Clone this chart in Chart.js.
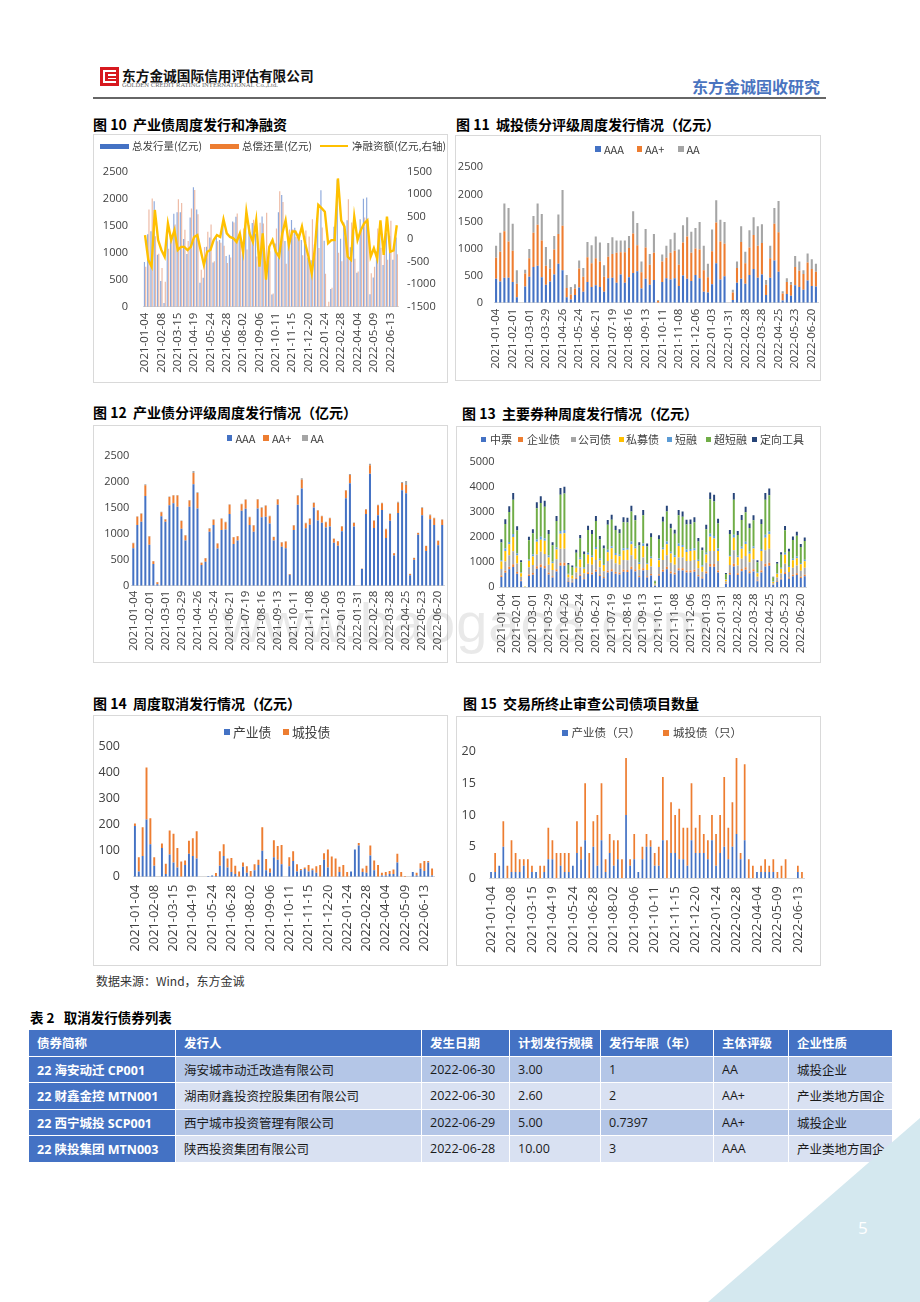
<!DOCTYPE html>
<html><head><meta charset="utf-8">
<script src="https://cdn.jsdelivr.net/npm/chart.js@4.4.1/dist/chart.umd.min.js"></script>
<style>
html,body{margin:0;padding:0;background:#fff;}
#page{position:relative;width:920px;height:1302px;overflow:hidden;font-family:'Noto Sans CJK SC','Noto Sans',sans-serif;color:#000;}
.abs{position:absolute;white-space:nowrap;}
.box{position:absolute;border:1px solid #d9d9d9;box-sizing:border-box;}
.ttl{position:absolute;font-weight:700;font-size:14px;line-height:18px;white-space:nowrap;color:#000;}
canvas{position:absolute;}
#tbl{position:absolute;left:28px;top:1029px;width:864px;border-collapse:collapse;table-layout:fixed;font-family:'Open Sans','Noto Sans CJK SC',sans-serif;font-size:12.5px;}
#tbl td{height:25.5px;padding:0 0 0 8px;border:1.5px solid #fff;white-space:nowrap;overflow:hidden;color:#1a1a1a;}
#tbl tr.h td{background:#4472C4;color:#fff;font-weight:700;font-family:'Noto Sans CJK SC',sans-serif;}
#tbl td.f{background:#4472C4;color:#fff;font-weight:700;}
#tbl tr.d td{background:#B4C6E7;}
#tbl tr.l td{background:#D9E1F2;}
#tbl tr.d td.f,#tbl tr.l td.f{background:#4472C4;}
</style></head>
<body><div id="page">
<!-- header -->
<div class="abs" style="left:100px;top:67px;width:19px;height:19px;background:#d7191f;"></div>
<div class="abs" style="left:103px;top:70px;width:2px;height:13px;background:#fff;"></div>
<div class="abs" style="left:103px;top:70px;width:13px;height:2px;background:#fff;"></div>
<div class="abs" style="left:103px;top:81px;width:13px;height:2px;background:#fff;"></div>
<div class="abs" style="left:108px;top:74px;width:8px;height:1.5px;background:#fff;"></div>
<div class="abs" style="left:108px;top:77.5px;width:8px;height:1.5px;background:#fff;"></div>
<div class="abs" style="left:122px;top:66px;font-size:13.7px;line-height:18px;font-weight:700;color:#111;">东方金诚国际信用评估有限公司</div>
<div class="abs" style="left:122px;top:81px;font-size:6.6px;line-height:8px;font-family:'Liberation Serif',serif;color:#666;">GOLDEN CREDIT RATING INTERNATIONAL Co.,Ltd.</div>
<div class="abs" style="left:692px;top:76px;font-size:16px;line-height:20px;font-weight:700;color:#4a74c0;">东方金诚固收研究</div>
<div class="abs" style="left:93px;top:96.5px;width:733px;height:2px;background:#666;"></div>

<!-- chart boxes -->
<div class="box" style="left:93px;top:134px;width:355px;height:249px;"></div>
<div class="box" style="left:455px;top:135px;width:366px;height:246px;"></div>
<div class="box" style="left:93px;top:425px;width:355px;height:238px;"></div>
<div class="box" style="left:456px;top:426px;width:365px;height:237px;"></div>
<div class="box" style="left:93px;top:715px;width:355px;height:251px;"></div>
<div class="box" style="left:456px;top:716px;width:365px;height:250px;"></div>

<div class="ttl" style="left:93px;top:115px;">图 10&nbsp; 产业债周度发行和净融资</div>
<div class="ttl" style="left:456px;top:115px;">图 11&nbsp; 城投债分评级周度发行情况（亿元）</div>
<div class="ttl" style="left:93px;top:403px;">图 12&nbsp; 产业债分评级周度发行情况（亿元）</div>
<div class="ttl" style="left:462px;top:404px;">图 13&nbsp; 主要券种周度发行情况（亿元）</div>
<div class="ttl" style="left:93px;top:694px;">图 14&nbsp; 周度取消发行情况（亿元）</div>
<div class="ttl" style="left:463px;top:694px;">图 15&nbsp; 交易所终止审查公司债项目数量</div>

<canvas id="c10"></canvas><canvas id="c11"></canvas><canvas id="c12"></canvas>
<canvas id="c13"></canvas><canvas id="c14"></canvas><canvas id="c15"></canvas>

<div class="abs" style="left:222px;top:588px;font-family:'Liberation Sans',sans-serif;font-size:56px;line-height:70px;color:rgba(120,120,120,0.16);letter-spacing:1px;">www.baogao8.com</div>

<div class="abs" style="left:96px;top:972px;font-size:12px;line-height:18px;color:#333;">数据来源：Wind，东方金诚</div>

<div class="abs" style="left:30px;top:1008px;font-size:13.5px;line-height:18px;font-weight:700;">表 2&nbsp;&nbsp; 取消发行债券列表</div>
<table id="tbl">
<colgroup><col style="width:147px"><col style="width:246px"><col style="width:88px"><col style="width:91px"><col style="width:113px"><col style="width:75px"><col style="width:104px"></colgroup>
<tr class="h"><td>债券简称</td><td>发行人</td><td>发生日期</td><td>计划发行规模</td><td>发行年限（年）</td><td>主体评级</td><td>企业性质</td></tr>
<tr class="d"><td class="f">22 海安动迁 CP001</td><td>海安城市动迁改造有限公司</td><td>2022-06-30</td><td>3.00</td><td>1</td><td>AA</td><td>城投企业</td></tr>
<tr class="l"><td class="f">22 财鑫金控 MTN001</td><td>湖南财鑫投资控股集团有限公司</td><td>2022-06-30</td><td>2.60</td><td>2</td><td>AA+</td><td>产业类地方国企</td></tr>
<tr class="d"><td class="f">22 西宁城投 SCP001</td><td>西宁城市投资管理有限公司</td><td>2022-06-29</td><td>5.00</td><td>0.7397</td><td>AA+</td><td>城投企业</td></tr>
<tr class="l"><td class="f">22 陕投集团 MTN003</td><td>陕西投资集团有限公司</td><td>2022-06-28</td><td>10.00</td><td>3</td><td>AAA</td><td>产业类地方国企</td></tr>
</table>

<div class="abs" style="left:0;top:0;width:920px;height:1302px;background:#d4e8ef;clip-path:polygon(708px 1302px,920px 1118px,920px 1302px);"></div>
<div class="abs" style="left:858px;top:1216px;font-family:'Open Sans',sans-serif;font-size:17px;line-height:24px;color:#fff;">5</div>
</div>

<script>
// ---------- data ----------
const weeks = ['2021-01-04','2021-01-11','2021-01-18','2021-01-25','2021-02-01','2021-02-08','2021-02-15','2021-02-22','2021-03-01','2021-03-08',
'2021-03-15','2021-03-22','2021-03-29','2021-04-05','2021-04-12','2021-04-19','2021-04-26','2021-05-03','2021-05-10','2021-05-17',
'2021-05-24','2021-05-31','2021-06-07','2021-06-14','2021-06-21','2021-06-28','2021-07-05','2021-07-12','2021-07-19','2021-07-26',
'2021-08-02','2021-08-09','2021-08-16','2021-08-23','2021-08-30','2021-09-06','2021-09-13','2021-09-20','2021-09-27','2021-10-04',
'2021-10-11','2021-10-18','2021-10-25','2021-11-01','2021-11-08','2021-11-15','2021-11-22','2021-11-29','2021-12-06','2021-12-13',
'2021-12-20','2021-12-27','2022-01-03','2022-01-10','2022-01-17','2022-01-24','2022-01-31','2022-02-07','2022-02-14','2022-02-21',
'2022-02-28','2022-03-07','2022-03-14','2022-03-21','2022-03-28','2022-04-04','2022-04-11','2022-04-18','2022-04-25','2022-05-02',
'2022-05-09','2022-05-16','2022-05-23','2022-05-30','2022-06-06','2022-06-13','2022-06-20','2022-06-27'];

// Fig 10
const issue10 = [830,1340,1395,1955,960,475,70,1425,1285,1720,1750,1750,1255,975,1650,2210,1800,445,535,1110,1280,820,1300,1235,1570,940,960,1580,1665,1330,1170,1670,1510,1550,1350,945,1670,840,855,225,1170,1750,2070,1215,1300,1605,1460,1350,1235,1310,910,860,1150,1845,2155,1220,0,330,1480,2350,1260,1560,1600,1100,1390,630,1620,2000,2020,230,540,1020,1510,770,1370,1310,870,1280];
const repay10 = [740,1800,2005,1305,980,715,460,1075,1305,1520,1990,1920,1425,1215,1820,2160,1710,685,1105,1390,1520,840,1210,1185,1130,810,910,1560,1725,1200,1450,1060,1380,1610,930,1555,1540,1740,1025,245,1450,2140,1940,795,1430,1435,1290,1330,955,1410,1300,1620,1320,1085,1465,610,90,350,1500,1000,840,1280,1990,1560,890,650,1420,1650,1600,620,740,1450,1090,1120,870,1590,1120,970];
const net10 = [90,-460,-610,650,-20,-240,-390,350,-20,200,-240,-170,-170,-240,-170,50,90,-240,-570,-280,-240,-20,90,50,440,130,50,20,-60,130,-280,610,130,-60,420,-610,130,-900,-170,-20,-280,-390,130,420,-130,170,170,20,280,-100,-390,-760,-170,760,690,610,-90,-20,-20,1350,420,280,-390,-460,500,-20,200,350,420,-390,-200,-430,420,-350,500,-280,-250,310];

// Fig 11 (城投债)
const aaa11 = [440,390,460,460,380,100,0,300,480,660,680,470,330,390,520,720,600,100,60,140,280,200,380,290,320,290,200,450,460,370,520,370,470,550,580,260,440,330,420,0,380,450,430,450,310,500,440,400,510,450,200,190,340,730,430,490,0,50,370,440,350,510,620,460,520,140,460,780,570,40,160,130,320,290,240,410,310,300];
const aap11 = [390,550,860,670,580,250,0,240,340,630,760,680,350,240,460,550,820,170,90,120,350,280,460,440,500,470,280,400,440,550,410,560,540,730,480,300,580,370,500,30,380,380,490,510,390,610,780,520,490,530,400,280,610,750,700,600,0,140,270,680,380,510,630,590,580,190,360,680,730,130,220,200,340,300,290,330,310,270];
const aa11 = [220,350,510,620,500,250,0,70,170,310,390,490,350,170,250,360,660,240,140,80,150,160,280,330,400,350,210,250,310,230,220,220,220,410,410,200,340,200,350,20,130,220,250,330,280,320,360,390,380,510,450,250,400,410,400,400,0,50,120,290,210,320,330,360,350,90,230,290,580,40,70,50,200,170,70,170,180,150];

// Fig 12 (产业债)
const aaa12 = [720,1170,1235,1730,790,420,30,1340,1235,1550,1590,1520,1100,870,1520,1955,1490,400,460,1040,1170,715,1075,1085,1380,805,870,1445,1485,1170,1040,1490,1320,1330,1200,870,1560,750,720,210,1075,1560,1875,1105,1175,1505,1255,1215,1120,1140,830,770,1050,1685,1975,1140,0,320,1380,2160,1110,1360,1460,920,1250,580,1400,1840,1780,200,500,980,1360,670,1280,1170,780,1170];
const aap12 = [100,160,150,205,160,50,35,75,40,160,150,220,145,100,120,215,295,40,70,60,100,100,215,140,180,130,85,125,170,150,120,170,180,210,140,70,100,85,130,15,85,175,165,100,115,90,195,125,105,160,75,85,90,150,160,70,0,5,90,160,140,190,130,170,130,45,200,140,160,25,35,35,140,95,80,130,85,100];
const aa12 = [10,10,10,20,10,5,5,10,10,10,10,10,10,5,10,40,15,5,5,10,10,5,10,10,10,5,5,10,10,10,10,10,10,10,10,5,10,5,5,0,10,15,30,10,10,10,10,10,10,10,5,5,10,10,20,10,0,5,10,30,10,10,10,10,10,5,20,20,80,5,5,5,10,5,10,10,5,10];

// Fig 13 (主要券种)
const mtn13 = [410,580,720,810,540,240,10,450,500,740,800,750,510,390,630,860,860,220,190,330,450,320,530,510,620,450,360,590,630,540,510,620,610,720,630,400,670,390,470,60,460,620,720,550,510,670,670,590,590,620,430,350,550,820,820,590,0,130,500,830,490,640,700,560,630,240,590,830,860,90,220,310,530,340,440,490,370,440];
const ent13 = [60,80,100,110,70,30,0,60,70,100,110,100,70,50,90,120,120,30,30,50,60,40,70,70,80,60,50,80,90,70,70,80,80,100,90,50,90,50,60,10,60,80,100,80,70,90,90,80,80,80,60,50,80,110,110,80,0,20,70,110,70,90,100,80,90,30,80,110,120,10,30,40,70,50,60,70,50,60];
const corp13 = [260,370,460,520,340,150,0,290,320,470,510,480,320,250,400,550,550,140,120,210,290,200,340,320,390,290,230,380,400,350,320,390,390,460,400,250,430,250,300,40,290,390,460,350,320,430,430,380,380,390,270,220,350,520,520,380,0,80,320,530,310,410,450,360,400,150,380,530,550,60,140,200,340,220,280,310,240,280];
const pp13 = [300,420,430,560,320,140,10,260,340,500,470,520,290,270,380,600,620,120,130,190,310,180,360,300,420,270,250,350,430,330,340,370,410,430,420,230,450,230,320,30,270,410,430,370,300,450,410,360,400,370,290,200,330,560,490,400,0,70,340,500,330,390,470,340,420,140,400,500,580,50,150,190,360,200,300,290,260,260];
const cp13 = [50,90,90,120,80,30,0,50,80,90,120,90,80,60,80,110,130,30,20,40,70,50,80,60,90,70,40,90,80,80,60,90,70,110,80,60,100,40,70,10,70,70,110,70,80,100,80,90,70,90,50,60,70,120,100,90,0,20,60,120,60,80,90,80,80,40,70,120,110,20,30,40,80,40,60,70,50,60];
const scp13 = [700,980,1200,1370,910,410,10,760,840,1250,1350,1270,850,650,1060,1440,1450,360,320,560,760,540,900,860,1040,760,610,1000,1060,910,850,1040,1020,1200,1050,670,1130,660,780,90,770,1040,1200,930,850,1130,1130,1000,990,1040,720,590,930,1380,1380,1000,0,210,830,1400,820,1070,1180,940,1050,400,1000,1400,1440,160,370,520,890,570,740,820,630,740];
const ppn13 = [130,190,230,260,170,80,0,140,160,240,260,240,160,120,200,270,270,70,60,110,140,100,170,160,200,140,120,190,200,170,160,200,190,230,200,130,210,120,150,20,150,200,230,180,160,210,210,190,190,200,140,110,180,260,260,190,0,40,160,260,160,200,220,180,200,80,190,260,270,30,70,100,170,110,140,160,120,140];

// Fig 14 (取消发行)
const ind14 = [195,20,80,220,125,42,0,110,10,85,55,35,0,45,88,80,70,0,0,3,5,3,42,80,35,18,10,0,38,15,0,25,45,100,25,15,75,65,48,0,40,60,20,25,30,20,25,15,0,65,35,0,0,18,0,0,20,105,120,18,15,82,25,0,5,5,10,10,55,0,0,0,18,5,32,22,55,5];
const city14 = [10,55,110,200,100,33,0,18,40,93,110,75,58,17,50,68,105,0,0,0,0,11,56,45,35,54,32,20,17,25,22,23,20,90,43,17,65,53,74,0,35,38,28,5,5,25,7,25,45,25,70,78,70,20,45,18,0,0,10,14,27,38,37,45,10,13,12,18,33,18,3,0,0,10,20,38,5,27];

// Fig 15 (终止审查, 77 weeks)
const weeks15 = weeks.slice(0, 77);
const ind15 = [1,1,2,5,0,1,1,1,2,0,1,1,0,1,3,3,0,2,1,1,2,4,3,6,0,5,2,6,1,4,2,3,0,10,2,3,1,3,5,5,2,2,6,0,4,4,3,3,2,6,4,4,4,3,6,2,4,5,3,5,7,3,6,0,0,1,1,1,1,1,0,0,0,0,0,1,0];
const city15 = [0,3,0,4,2,5,3,2,1,3,1,0,2,1,5,3,4,2,3,3,0,5,2,9,4,4,8,9,2,3,4,3,3,9,1,4,0,2,2,1,2,3,10,6,8,6,8,5,6,9,4,6,3,3,4,5,6,11,5,7,12,1,12,3,2,0,1,2,1,2,1,2,3,0,0,1,1];

// ---------- helpers ----------
const C = {blue:'#4472C4', orange:'#ED7D31', gray:'#A5A5A5', yellow:'#FFC000', lblue:'#5B9BD5', green:'#70AD47', navy:'#264478'};
const TF = "'Open Sans','Noto Sans CJK SC',sans-serif";
const TC = '#404040';

function legend(items){
  const host = document.getElementById('page');
  items.forEach(it=>{
    const d = document.createElement('div');
    d.className = 'abs';
    if (it.t){
      d.textContent = it.t;
      d.style.left = it.x+'px'; d.style.top = (it.y - it.s*0.75)+'px';
      d.style.fontSize = it.s+'px'; d.style.lineHeight = (it.s*1.5)+'px';
      d.style.color = '#404040';
    } else {
      d.style.left = it.x+'px'; d.style.top = (it.y - it.h/2)+'px';
      d.style.width = it.w+'px'; d.style.height = it.h+'px'; d.style.background = it.c;
    }
    host.appendChild(d);
  });
}

function xScale(box, plot, every, fs, pad, stacked){
  return {type:'category', stacked:!!stacked, offset:true,
    grid:{display:false, drawTicks:false}, border:{display:true, color:'#d9d9d9', width:1},
    ticks:{autoSkip:false, minRotation:90, maxRotation:90, padding:pad, color:TC, font:{family:TF, size:fs},
      callback:function(v,i){ return i % every === 0 ? this.getLabelForValue(v) : ''; }},
    afterFit:function(s){ s.height = box.b - plot.b; s.paddingLeft = 0; s.paddingRight = 0; }};
}
function yScale(box, plot, min, max, step, fs, pad, stacked, pos){
  return {type:'linear', position:pos || 'left', stacked:!!stacked, min:min, max:max,
    grid:{display:false, drawTicks:false}, border:{display:false},
    ticks:{stepSize:step, padding:pad, color:TC, font:{family:TF, size:fs}, callback:v => String(v)},
    afterFit:function(s){ s.width = (pos === 'right') ? (box.r - plot.r) : (plot.l - box.l); s.paddingTop = 0; s.paddingBottom = 0; }};
}
function make(id, box, plot, hasRight, data, scales){
  const cv = document.getElementById(id);
  const W = box.r - box.l, H = box.b - box.t;
  cv.width = W; cv.height = H;
  cv.style.left = box.l+'px'; cv.style.top = box.t+'px';
  cv.style.width = W+'px'; cv.style.height = H+'px';
  return new Chart(cv, {type:'bar', data:data,
    options:{responsive:false, animation:false,
      layout:{padding:{left:0, top:plot.t - box.t, right:hasRight ? 0 : box.r - plot.r, bottom:0}},
      plugins:{legend:{display:false}, tooltip:{enabled:false}},
      scales:scales}});
}
function bar(label, data, color, extra){
  return Object.assign({label:label, data:data, backgroundColor:color, borderWidth:0}, extra || {});
}

// ---------- Fig 10 ----------
{
  const box = {l:93, t:134, r:448, b:383};
  const plot = {l:143.4, t:171.7, r:398.4, b:306.7};
  make('c10', box, plot, true, {labels:weeks, datasets:[
    {type:'line', label:'净融资额(亿元,右轴)', data:net10, borderColor:C.yellow, backgroundColor:C.yellow, borderWidth:2.4, pointRadius:0, tension:0, yAxisID:'y1', order:0},
    bar('总发行量(亿元)', issue10, 'rgba(68,114,196,0.6)', {yAxisID:'y', order:1, categoryPercentage:0.8, barPercentage:0.9}),
    bar('总偿还量(亿元)', repay10, 'rgba(222,130,90,0.55)', {yAxisID:'y', order:1, categoryPercentage:0.8, barPercentage:0.9})
  ]}, {
    x: xScale(box, plot, 5, 11.5, 6, false),
    y: yScale(box, plot, 0, 2500, 500, 11, 15.4, false, 'left'),
    y1: yScale(box, plot, -1500, 1500, 500, 11, 8.6, false, 'right')
  });
  legend([
    {x:100, y:146, w:29, h:5, c:C.blue}, {t:'总发行量(亿元)', x:132, y:146, s:10.5},
    {x:210, y:146, w:29, h:5, c:C.orange}, {t:'总偿还量(亿元)', x:242, y:146, s:10.5},
    {x:320, y:146, w:28, h:2.5, c:C.yellow}, {t:'净融资额(亿元,右轴)', x:352, y:146, s:10.5}
  ]);
}

// ---------- Fig 11 ----------
{
  const box = {l:455, t:135, r:821, b:381};
  const plot = {l:494, t:167.3, r:818, b:302.7};
  const o = {categoryPercentage:1, barPercentage:0.5};
  make('c11', box, plot, false, {labels:weeks, datasets:[
    bar('AAA', aaa11, C.blue, o), bar('AA+', aap11, C.orange, o), bar('AA', aa11, C.gray, o)
  ]}, {
    x: xScale(box, plot, 4, 11.5, 6, true),
    y: yScale(box, plot, 0, 2500, 500, 11, 11, true)
  });
  legend([
    {x:595, y:149, w:5.5, h:5.5, c:C.blue}, {t:'AAA', x:604, y:149, s:11},
    {x:636.5, y:149, w:5.5, h:5.5, c:C.orange}, {t:'AA+', x:645, y:149, s:11},
    {x:678, y:149, w:5.5, h:5.5, c:C.gray}, {t:'AA', x:686.5, y:149, s:11}
  ]);
}

// ---------- Fig 12 ----------
{
  const box = {l:93, t:425, r:448, b:663};
  const plot = {l:131.3, t:456, r:444.2, b:585.7};
  const o = {categoryPercentage:1, barPercentage:0.5};
  make('c12', box, plot, false, {labels:weeks, datasets:[
    bar('AAA', aaa12, C.blue, o), bar('AA+', aap12, C.orange, o), bar('AA', aa12, C.gray, o)
  ]}, {
    x: xScale(box, plot, 4, 11.5, 5, true),
    y: yScale(box, plot, 0, 2500, 500, 11, 2, true)
  });
  legend([
    {x:226.5, y:438, w:5.5, h:5.5, c:C.blue}, {t:'AAA', x:235.5, y:438, s:11},
    {x:263, y:438, w:5.5, h:5.5, c:C.orange}, {t:'AA+', x:272, y:438, s:11},
    {x:302, y:438, w:5.5, h:5.5, c:C.gray}, {t:'AA', x:310.5, y:438, s:11}
  ]);
}

// ---------- Fig 13 ----------
{
  const box = {l:456, t:426, r:821, b:663};
  const plot = {l:499.4, t:461.7, r:806.7, b:587.3};
  const o = {categoryPercentage:1, barPercentage:0.5};
  make('c13', box, plot, false, {labels:weeks, datasets:[
    bar('中票', mtn13, C.blue, o), bar('企业债', ent13, C.orange, o), bar('公司债', corp13, C.gray, o),
    bar('私募债', pp13, C.yellow, o), bar('短融', cp13, C.lblue, o), bar('超短融', scp13, C.green, o),
    bar('定向工具', ppn13, C.navy, o)
  ]}, {
    x: xScale(box, plot, 4, 11.5, 6, true),
    y: yScale(box, plot, 0, 5000, 1000, 11, 4.8, true)
  });
  legend([
    {x:481, y:439, w:5, h:5, c:C.blue}, {t:'中票', x:490, y:439, s:11},
    {x:518, y:439, w:5, h:5, c:C.orange}, {t:'企业债', x:527, y:439, s:11},
    {x:570.5, y:439, w:5, h:5, c:C.gray}, {t:'公司债', x:578, y:439, s:11},
    {x:619, y:439, w:5, h:5, c:C.yellow}, {t:'私募债', x:626, y:439, s:11},
    {x:667, y:439, w:5, h:5, c:C.lblue}, {t:'短融', x:675, y:439, s:11},
    {x:706, y:439, w:5, h:5, c:C.green}, {t:'超短融', x:714, y:439, s:11},
    {x:752, y:439, w:5, h:5, c:C.navy}, {t:'定向工具', x:760, y:439, s:11}
  ]);
}

// ---------- Fig 14 ----------
{
  const box = {l:93, t:715, r:448, b:966};
  const plot = {l:133, t:746.7, r:434, b:876.7};
  const o = {categoryPercentage:1, barPercentage:0.5};
  make('c14', box, plot, false, {labels:weeks, datasets:[
    bar('产业债', ind14, C.blue, o), bar('城投债', city14, C.orange, o)
  ]}, {
    x: xScale(box, plot, 5, 12.8, 8, true),
    y: yScale(box, plot, 0, 500, 100, 12.5, 13, true)
  });
  legend([
    {x:224, y:732, w:6, h:6, c:C.blue}, {t:'产业债', x:233, y:732, s:12.8},
    {x:283, y:732, w:6, h:6, c:C.orange}, {t:'城投债', x:292, y:732, s:12.8}
  ]);
}

// ---------- Fig 15 ----------
{
  const box = {l:456, t:716, r:821, b:966};
  const plot = {l:489, t:751.7, r:804, b:878.3};
  const o = {categoryPercentage:1, barPercentage:0.42};
  make('c15', box, plot, false, {labels:weeks15, datasets:[
    bar('产业债（只）', ind15, C.blue, o), bar('城投债（只）', city15, C.orange, o)
  ]}, {
    x: xScale(box, plot, 5, 12.8, 8, true),
    y: yScale(box, plot, 0, 20, 5, 12.5, 13.2, true)
  });
  legend([
    {x:562, y:733, w:5.5, h:5.5, c:C.blue}, {t:'产业债（只）', x:571.5, y:733, s:11.5},
    {x:663, y:733, w:5.5, h:5.5, c:C.orange}, {t:'城投债（只）', x:673, y:733, s:11.5}
  ]);
}
</script>
</body></html>
